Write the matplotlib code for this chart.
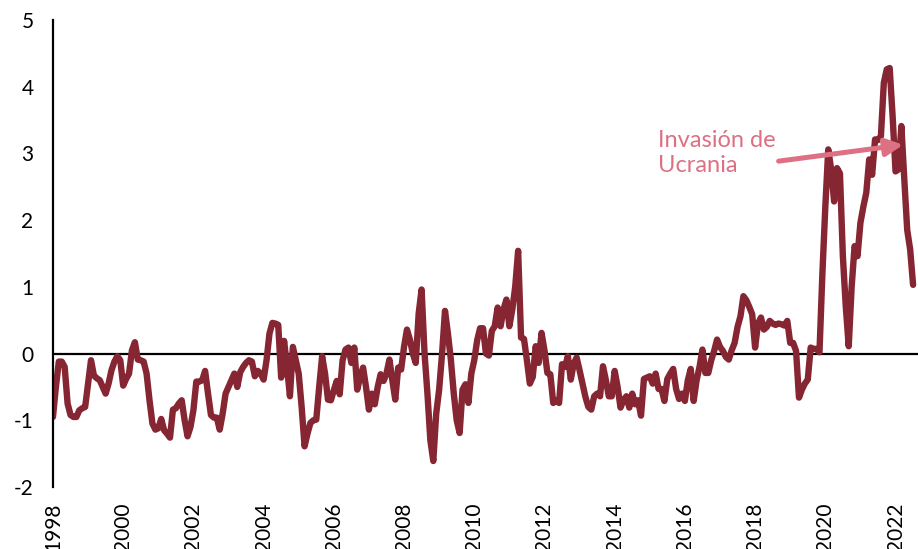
import numpy as np
import matplotlib
matplotlib.use('Agg')
from matplotlib import pyplot as plt

# monthly values, Jan 1998 onwards
v1998 = [-0.95, -0.5, -0.12, -0.12, -0.2, -0.75, -0.92, -0.95, -0.95, -0.85, -0.82, -0.8]
v1999 = [-0.45, -0.1, -0.33, -0.37, -0.4, -0.5, -0.6, -0.45, -0.25, -0.12, -0.04, -0.1]
v2000 = [-0.48, -0.38, -0.3, 0.05, 0.17, -0.09, -0.1, -0.12, -0.3, -0.7, -1.05, -1.14]
v2001 = [-1.12, -0.98, -1.15, -1.2, -1.26, -0.84, -0.82, -0.75, -0.7, -1.0, -1.24, -1.1]
v2002 = [-0.85, -0.42, -0.42, -0.4, -0.26, -0.6, -0.92, -0.96, -0.96, -1.14, -0.9, -0.6]
v2003 = [-0.5, -0.4, -0.3, -0.5, -0.28, -0.2, -0.14, -0.1, -0.12, -0.34, -0.26, -0.3]
v2004 = [-0.39, -0.1, 0.3, 0.46, 0.45, 0.43, -0.36, 0.19, -0.2, -0.64, 0.1, -0.1]
v2005 = [-0.3, -0.8, -1.39, -1.2, -1.04, -1.0, -0.99, -0.5, -0.04, -0.3, -0.69, -0.7]
v2006 = [-0.55, -0.41, -0.61, -0.1, 0.06, 0.09, -0.14, 0.09, -0.54, -0.35, -0.21, -0.5]
v2007 = [-0.84, -0.6, -0.76, -0.5, -0.31, -0.41, -0.3, -0.09, -0.4, -0.69, -0.21, -0.24]
v2008 = [0.1, 0.36, 0.21, 0.0, -0.14, 0.6, 0.96, 0.01, -0.6, -1.3, -1.61, -0.9]
v2009 = [-0.54, 0.0, 0.64, 0.3, -0.09, -0.6, -1.0, -1.19, -0.54, -0.46, -0.74, -0.3]
v2010 = [-0.1, 0.2, 0.38, 0.38, 0.0, -0.03, 0.34, 0.41, 0.69, 0.41, 0.66, 0.81]
v2011 = [0.41, 0.66, 1.0, 1.54, 0.24, 0.22, -0.1, -0.45, -0.35, 0.11, -0.14, 0.31]
v2012 = [0.05, -0.29, -0.31, -0.74, -0.7, -0.74, -0.16, -0.2, -0.04, -0.39, -0.15, -0.06]
v2013 = [-0.25, -0.45, -0.65, -0.8, -0.84, -0.64, -0.6, -0.64, -0.19, -0.4, -0.64, -0.64]
v2014 = [-0.26, -0.5, -0.81, -0.7, -0.64, -0.81, -0.6, -0.76, -0.7, -0.93, -0.38, -0.36]
v2015 = [-0.34, -0.45, -0.3, -0.53, -0.53, -0.71, -0.38, -0.3, -0.23, -0.53, -0.68, -0.6]
v2016 = [-0.71, -0.4, -0.23, -0.71, -0.4, -0.2, 0.06, -0.29, -0.29, -0.1, 0.04, 0.21]
v2017 = [0.1, 0.04, -0.05, -0.09, 0.05, 0.16, 0.4, 0.56, 0.86, 0.8, 0.7, 0.59]
v2018 = [0.09, 0.45, 0.54, 0.36, 0.4, 0.49, 0.45, 0.43, 0.45, 0.44, 0.42, 0.49]
v2019 = [0.16, 0.16, 0.04, -0.66, -0.54, -0.45, -0.39, 0.09, 0.07, 0.07, 0.02, 1.2]
v2020 = [2.2, 3.06, 2.76, 2.28, 2.78, 2.7, 1.46, 0.7, 0.11, 1.0, 1.61, 1.46]
v2021 = [1.96, 2.2, 2.41, 2.91, 2.68, 3.21, 3.2, 3.26, 4.06, 4.26, 4.28, 3.56]
v2022 = [2.73, 2.76, 3.41, 2.61, 1.85, 1.56, 1.03]

values = (v1998 + v1999 + v2000 + v2001 + v2002 + v2003 + v2004 + v2005 +
          v2006 + v2007 + v2008 + v2009 + v2010 + v2011 + v2012 + v2013 +
          v2014 + v2015 + v2016 + v2017 + v2018 + v2019 + v2020 + v2021 + v2022)
x = 1998 + np.arange(len(values)) / 12

tick_years = list(range(1998, 2023, 2))
y_ticks = [-2, -1, 0, 1, 2, 3, 4, 5]

plt.rcParams['font.family'] = ['Lato', 'DejaVu Sans']

fig = plt.figure(figsize=(9.18, 5.49), dpi=100)
ax = fig.add_axes([0.0577, 0.1129, 0.9423, 0.8507])

ax.axhline(0, color='black', lw=1.6, zorder=1)
ax.plot(x, values, color='#862633', lw=4.6, solid_joinstyle='round',
        solid_capstyle='round', zorder=2)

ax.set_xlim(1998, 2022.64)
ax.set_ylim(-2, 5)
ax.set_xticks(tick_years)
ax.set_xticklabels([str(t) for t in tick_years], rotation=90, fontsize=15)
ax.set_yticks(y_ticks)
ax.set_yticklabels([str(t) for t in y_ticks], fontsize=15)
ax.tick_params(axis='x', length=0, pad=11)
ax.tick_params(axis='y', length=0, pad=14)

for side in ['top', 'right', 'bottom']:
    ax.spines[side].set_visible(False)
ax.spines['left'].set_linewidth(1.6)

ax.annotate('Invasión de\nUcrania', xy=(2022.22, 3.13), xytext=(2015.24, 3.01),
            color='#DD7082', fontsize=17, ha='left', va='center',
            linespacing=1.25,
            arrowprops=dict(arrowstyle='-|>', color='#DD7082', lw=3.6,
                            mutation_scale=26, shrinkA=0, shrinkB=0,
                            relpos=(0.82, 0.25)))

fig.savefig('out.png', dpi=100)
